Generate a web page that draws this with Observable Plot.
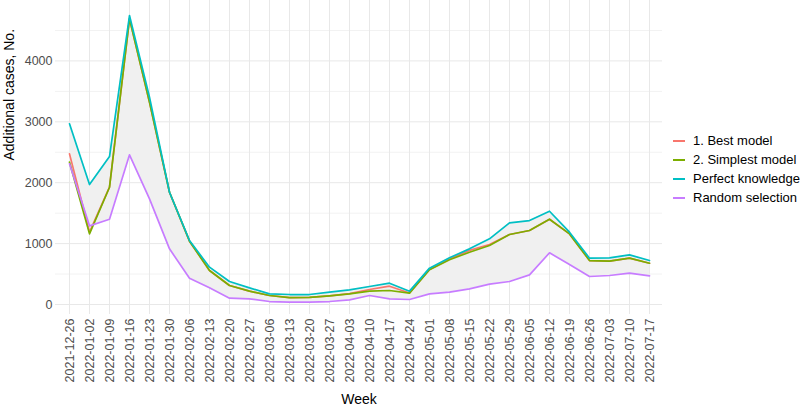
<!DOCTYPE html>
<html>
<head>
<meta charset="utf-8">
<script src="https://cdn.jsdelivr.net/npm/d3@7"></script>
<script src="https://cdn.jsdelivr.net/npm/@observablehq/plot@0.6"></script>
<style>
  html, body { margin: 0; padding: 0; background: #fff; }
  #wrap { position: relative; width: 800px; height: 408px; font-family: "Liberation Sans", Arial, sans-serif; }
  #legend { position: absolute; left: 673px; top: 131px; font-size: 13px; color: #000; }
  .row { display: flex; align-items: center; height: 19px; }
  .key { width: 12px; height: 2px; margin-right: 8px; }
</style>
</head>
<body>
<div id="wrap"></div>
<script>
const weeks = ["2021-12-26","2022-01-02","2022-01-09","2022-01-16","2022-01-23","2022-01-30","2022-02-06","2022-02-13","2022-02-20","2022-02-27","2022-03-06","2022-03-13","2022-03-20","2022-03-27","2022-04-03","2022-04-10","2022-04-17","2022-04-24","2022-05-01","2022-05-08","2022-05-15","2022-05-22","2022-05-29","2022-06-05","2022-06-12","2022-06-19","2022-06-26","2022-07-03","2022-07-10","2022-07-17"];

const seriesNames = ["1. Best model", "2. Simplest model", "Perfect knowledge", "Random selection"];
const seriesColors = ["#F8766D", "#7CAE00", "#00BFC4", "#C77CFF"];

const bestModel     = [2474,1190,1926,4690,3322,1844,1040,558,312,219,148,112,118,143,180,246,301,190,575,748,888,985,1149,1215,1401,1160,722,711,761,678];
const simplestModel = [2337,1160,1926,4690,3322,1844,1040,558,312,219,148,112,118,143,175,219,230,186,570,734,859,969,1149,1215,1401,1160,722,711,761,678];
const perfectKnowledge = [2967,1970,2430,4745,3404,1844,1051,613,378,274,175,164,164,202,241,296,350,219,597,767,914,1078,1341,1379,1532,1188,761,767,816,722];
const randomSelection  = [2310,1292,1401,2458,1735,914,432,274,104,93,49,38,38,49,77,148,93,82,175,202,257,334,378,487,849,657,460,476,514,471];

const yTicks = [0, 1000, 2000, 3000, 4000];
const yMinor = [500, 1500, 2500, 3500, 4500];

const valuesBySeries = [bestModel, simplestModel, perfectKnowledge, randomSelection];
const long = [];
seriesNames.forEach((s, i) => weeks.forEach((w, j) => long.push({week: w, value: valuesBySeries[i][j], series: s})));
const ribbon = weeks.map((w, j) => ({week: w, lo: randomSelection[j], hi: perfectKnowledge[j]}));

const chart = Plot.plot({
  width: 800,
  height: 408,
  marginLeft: 55,
  marginRight: 138,
  marginTop: 0,
  marginBottom: 94,
  style: {fontFamily: "Liberation Sans, Arial, sans-serif", background: "white"},
  x: {type: "point", domain: weeks, padding: 0.58},
  y: {domain: [-164, 4992]},
  color: {domain: seriesNames, range: seriesColors},
  marks: [
    Plot.ruleY(yMinor, {stroke: "#f2f2f2", strokeWidth: 1}),
    Plot.ruleY(yTicks, {stroke: "#e8e8e8", strokeWidth: 1}),
    Plot.ruleX(weeks, {stroke: "#e8e8e8", strokeWidth: 1}),
    Plot.areaY(ribbon, {x: "week", y1: "lo", y2: "hi", fill: "#f0f0f0", curve: "linear"}),
    Plot.line(long, {x: "week", y: "value", z: "series", stroke: "series", strokeWidth: 1.7}),
    Plot.axisX({tickRotate: -90, tickSize: 0, tickPadding: 4, fontSize: 12.5, color: "#4d4d4d", label: null}),
    Plot.axisY(yTicks, {tickSize: 0, tickPadding: 3, fontSize: 12.5, color: "#4d4d4d", label: null, tickFormat: d => String(d)}),
    Plot.text(["Week"], {frameAnchor: "bottom", dy: 89, fontSize: 14, fill: "#000"}),
    Plot.text(["Additional cases, No."], {frameAnchor: "left", dx: -46, dy: 3, rotate: -90, fontSize: 14, fill: "#000"})
  ]
});

const wrap = document.getElementById("wrap");
wrap.appendChild(chart);
const legend = document.createElement("div");
legend.id = "legend";
seriesNames.forEach((s, i) => {
  const row = document.createElement("div");
  row.className = "row";
  const key = document.createElement("span");
  key.className = "key";
  key.style.background = seriesColors[i];
  const lab = document.createElement("span");
  lab.textContent = s;
  row.appendChild(key);
  row.appendChild(lab);
  legend.appendChild(row);
});
wrap.appendChild(legend);
</script>
</body>
</html>
